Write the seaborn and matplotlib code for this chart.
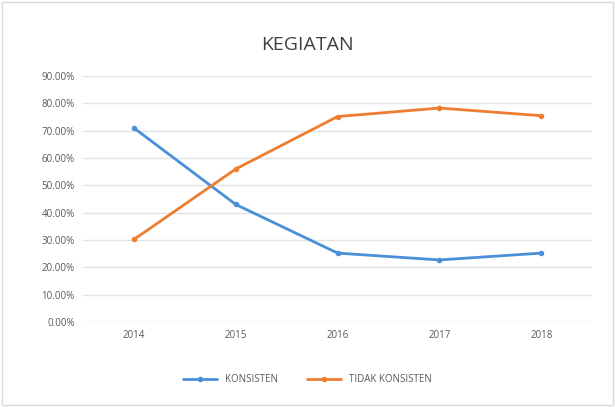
import pandas as pd
import matplotlib.pyplot as plt
import seaborn as sns
from matplotlib.ticker import PercentFormatter
from matplotlib.patches import Rectangle

years = ["2014", "2015", "2016", "2017", "2018"]
konsisten = [71.0, 43.0, 25.2, 22.7, 25.2]
tidak_konsisten = [30.2, 56.0, 75.2, 78.3, 75.5]
series_names = ["KONSISTEN", "TIDAK KONSISTEN"]
colors = ["#4a90d9", "#ed7d31"]

df = pd.DataFrame({
    "Tahun": years * 2,
    "Nilai": konsisten + tidak_konsisten,
    "Seri": [series_names[0]] * len(years) + [series_names[1]] * len(years),
})

sns.set_style("white")
plt.rcParams["font.family"] = ["Open Sans", "DejaVu Sans"]

fig = plt.figure(figsize=(6.15, 4.07), dpi=100)
ax = fig.add_axes([0.135, 0.209, 0.828, 0.604])

sns.lineplot(data=df, x="Tahun", y="Nilai", hue="Seri", palette=colors,
             marker="o", markersize=4, markeredgewidth=0, linewidth=2,
             sort=False, ax=ax)

ax.set_ylim(0, 90)
ax.set_yticks(range(0, 91, 10))
ax.yaxis.set_major_formatter(PercentFormatter(decimals=2))
ax.set_xlim(-0.5, len(years) - 0.5)
ax.grid(axis="y", color="#e3e3e3", linewidth=1)
ax.set_axisbelow(True)
for s in ax.spines.values():
    s.set_visible(False)
ax.tick_params(axis="both", length=0, labelsize=7, colors="#595959", pad=6)
ax.set_xlabel("")
ax.set_ylabel("")
fig.text(0.5, 0.89, "KEGIATAN", fontsize=14, color="#404040",
         ha="center", va="center")

handles, labels = ax.get_legend_handles_labels()
fig.legend(handles, labels, loc="center", bbox_to_anchor=(0.5, 0.067),
           ncol=2, frameon=False, fontsize=7, labelcolor="#595959",
           handlelength=3.5, columnspacing=3)
ax.get_legend().remove()

fig.patches.append(Rectangle((0.003, 0.005), 0.994, 0.99, transform=fig.transFigure,
                             fill=False, edgecolor="#d9d9d9", linewidth=1))

fig.savefig("out.png", dpi=100)
